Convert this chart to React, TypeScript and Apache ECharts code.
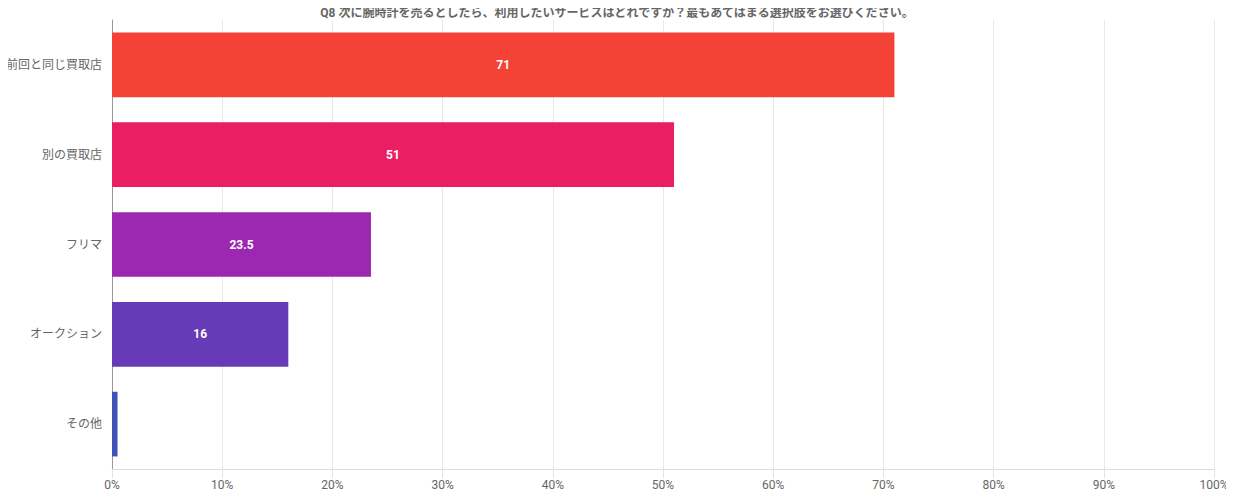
import React, { useEffect, useRef } from "react";
import * as echarts from "echarts";

const titleText = "Q8 次に腕時計を売るとしたら、利用したいサービスはどれですか？最もあてはまる選択肢をお選びください。";
const categories = ["前回と同じ買取店", "別の買取店", "フリマ", "オークション", "その他"];
const values = [71, 51, 23.5, 16, 0.5];
const colors = ["#F44336", "#E91E63", "#9C27B0", "#673AB7", "#3F51B5"];
const showLabel = [true, true, true, true, false];

export default function App() {
  const ref = useRef<HTMLDivElement>(null);
  useEffect(() => {
    if (!ref.current) return;
    const chart = echarts.init(ref.current, undefined, { renderer: "svg" });
    const font = "Roboto, 'Noto Sans CJK JP', sans-serif";
    chart.setOption({
      animation: false,
      textStyle: { fontFamily: font },
      title: {
        text: titleText,
        left: "center",
        top: 2,
        textStyle: { fontSize: 12, fontWeight: "bold", color: "#666", fontFamily: font },
      },
      grid: { left: 112, right: 20, top: 20, bottom: 31, containLabel: false },
      xAxis: {
        type: "value",
        min: 0,
        max: 100,
        interval: 10,
        axisLabel: { formatter: "{value}%", color: "#666", fontSize: 12, margin: 10 },
        axisLine: { show: true, lineStyle: { color: "#ddd" } },
        axisTick: { show: true, length: 9, lineStyle: { color: "#e2e2e2" } },
        splitLine: { show: true, lineStyle: { color: "#e8e8e8" } },
      },
      yAxis: {
        type: "category",
        inverse: true,
        data: categories,
        axisLabel: { color: "#666", fontSize: 12, margin: 10 },
        axisLine: { show: true, lineStyle: { color: "#999" } },
        axisTick: { show: false },
      },
      series: [
        {
          type: "bar",
          barCategoryGap: "28%",
          data: values.map((v, i) => ({
            value: v,
            itemStyle: { color: colors[i] },
            label: { show: showLabel[i] },
          })),
          label: {
            position: "inside",
            color: "#fff",
            fontWeight: "bold",
            fontSize: 12,
          },
        },
      ],
    });
    return () => chart.dispose();
  }, []);
  return <div ref={ref} style={{ width: 1234, height: 500, margin: -8 }} />;
}
